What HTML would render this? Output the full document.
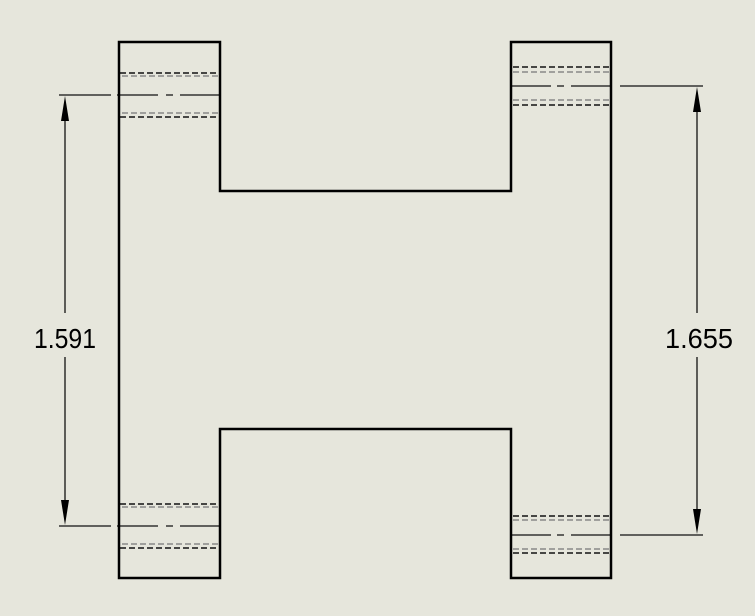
<!DOCTYPE html>
<html><head><meta charset="utf-8"><style>
html,body{margin:0;padding:0;background:#e6e6dc;}
svg{display:block}
text{font-family:"Liberation Sans",sans-serif;font-size:28px;font-weight:normal;fill:#000}
</style></head><body>
<svg width="755" height="616" viewBox="0 0 755 616" xmlns="http://www.w3.org/2000/svg">
<rect width="755" height="616" fill="#e6e6dc"/>
<g fill="none">
<g stroke="#111" stroke-width="1.6" stroke-dasharray="6,3">
<line x1="120" y1="73" x2="218" y2="73"/><line x1="120" y1="117" x2="218" y2="117"/>
<line x1="120" y1="504" x2="218" y2="504"/><line x1="120" y1="548" x2="218" y2="548"/>
<line x1="513" y1="67" x2="610" y2="67"/><line x1="513" y1="105" x2="610" y2="105"/>
<line x1="513" y1="516" x2="610" y2="516"/><line x1="513" y1="553" x2="610" y2="553"/>
</g>
<g stroke="#777" stroke-width="1.2" stroke-dasharray="6,3">
<line x1="122" y1="76" x2="218" y2="76"/><line x1="122" y1="113" x2="218" y2="113"/>
<line x1="122" y1="507" x2="218" y2="507"/><line x1="122" y1="544" x2="218" y2="544"/>
<line x1="513" y1="72" x2="610" y2="72"/><line x1="513" y1="100" x2="610" y2="100"/>
<line x1="513" y1="520" x2="610" y2="520"/><line x1="513" y1="549" x2="610" y2="549"/>
</g>
<g stroke="#333" stroke-width="1.4">
<path d="M59 95H111M117 95H158M166 95H173M180 95H220"/>
<path d="M59 526H111M117 526H158M166 526H173M180 526H220"/>
<path d="M511 86H551M557 86H564M571 86H611M620 86H703"/>
<path d="M511 535H551M557 535H564M571 535H611M620 535H703"/>
</g>
<path d="M119 42H220V191H511V42H611V578H511V429H220V578H119Z" stroke="#000" stroke-width="2.5"/>
<g stroke="#000" stroke-width="1.2">
<line x1="65" y1="110" x2="65" y2="313"/><line x1="65" y1="357" x2="65" y2="511"/>
<line x1="697" y1="101" x2="697" y2="313"/><line x1="697" y1="357" x2="697" y2="520"/>
</g>
</g>
<g fill="#000">
<polygon points="65,96 61,121 69,121"/>
<polygon points="65,525 61,500 69,500"/>
<polygon points="697,87 693,112 701,112"/>
<polygon points="697,534 693,509 701,509"/>
</g>
<text x="65" y="348" text-anchor="middle" textLength="62" lengthAdjust="spacingAndGlyphs">1.591</text>
<text x="699" y="348" text-anchor="middle" textLength="68" lengthAdjust="spacingAndGlyphs">1.655</text>
</svg>
</body></html>
